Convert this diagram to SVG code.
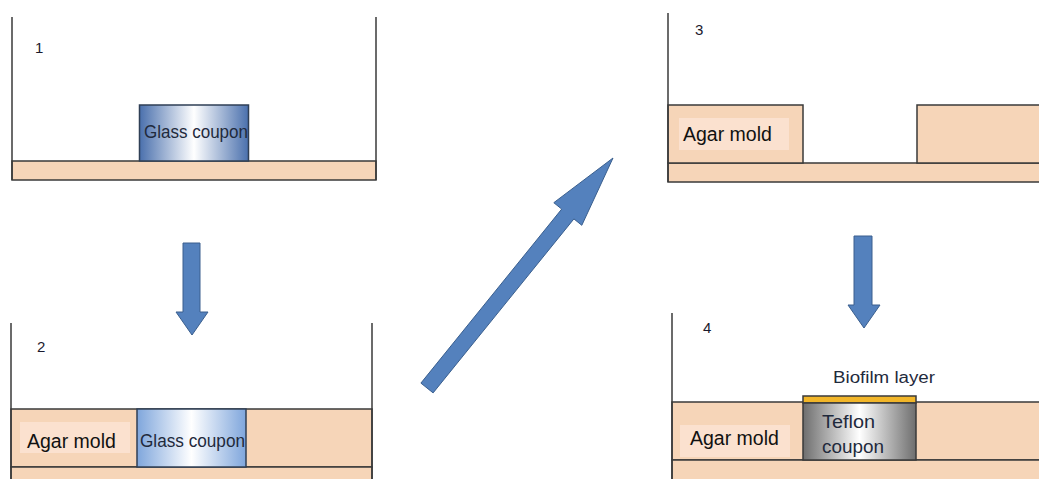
<svg xmlns="http://www.w3.org/2000/svg" width="1039" height="479" viewBox="0 0 1039 479">
<defs>
<linearGradient id="glassDark" x1="0" y1="0" x2="1" y2="0">
<stop offset="0" stop-color="#4a70ad"/><stop offset="0.5" stop-color="#ffffff"/><stop offset="1" stop-color="#4a70ad"/>
</linearGradient>
<linearGradient id="glassLight" x1="0" y1="0" x2="1" y2="0">
<stop offset="0" stop-color="#7fa6dc"/><stop offset="0.5" stop-color="#ffffff"/><stop offset="1" stop-color="#7fa6dc"/>
</linearGradient>
<linearGradient id="teflon" x1="0" y1="0" x2="1" y2="0">
<stop offset="0" stop-color="#6e6e6e"/><stop offset="0.5" stop-color="#ffffff"/><stop offset="1" stop-color="#6e6e6e"/>
</linearGradient>
</defs>
<style>
.wall{stroke:#3a3a3a;stroke-width:1.5;fill:none}
.agar{fill:#f6d5b8;stroke:#3a3a3a;stroke-width:1.5}
.lbox{fill:#fbe1cf}
.cpn{stroke:#2f3f55;stroke-width:1.5}
.arr{fill:#5481bd;stroke:#3a5f8e;stroke-width:1}
.t{font-family:"Liberation Sans",Arial,sans-serif;fill:#111}
.num{font-family:"Liberation Sans",Arial,sans-serif;font-size:15px;fill:#1a1a2e}
.ct{font-family:"Liberation Sans",Arial,sans-serif;fill:#1f2a3c}
</style>
<rect width="1039" height="479" fill="#ffffff"/>

<g id="panel1">
<rect class="agar" x="12" y="161" width="364" height="19"/>
<polyline class="wall" points="12,17 12,180"/>
<polyline class="wall" points="376,17 376,180"/>
<rect class="cpn" x="139.5" y="105" width="109" height="56" fill="url(#glassDark)"/>
<text class="ct" x="144" y="138" font-size="17.5" textLength="104" lengthAdjust="spacingAndGlyphs">Glass coupon</text>
<text class="num" x="35" y="53">1</text>
</g>

<g id="panel2">
<rect class="agar" x="11" y="409" width="361" height="58"/>
<rect class="agar" x="11" y="467" width="361" height="20"/>
<polyline class="wall" points="11,323 11,479"/>
<polyline class="wall" points="372,323 372,479"/>
<rect class="cpn" x="137" y="409" width="109" height="58" fill="url(#glassLight)"/>
<rect class="lbox" x="20" y="422" width="110" height="31"/>
<text class="t" x="27" y="448" font-size="19.5">Agar mold</text>
<text class="ct" x="140" y="447" font-size="17.5" textLength="105" lengthAdjust="spacingAndGlyphs">Glass coupon</text>
<text class="num" x="37" y="352">2</text>
</g>

<g id="panel3">
<rect class="agar" x="668" y="163" width="380" height="19"/>
<rect class="agar" x="668" y="105" width="135" height="58"/>
<rect class="agar" x="917" y="105" width="130" height="58"/>
<polyline class="wall" points="668,13 668,182"/>
<rect class="lbox" x="679" y="118" width="110" height="32"/>
<text class="t" x="683" y="141" font-size="19.5">Agar mold</text>
<text class="num" x="695" y="35">3</text>
</g>

<g id="panel4">
<rect class="agar" x="672" y="402" width="376" height="58"/>
<rect class="agar" x="672" y="460" width="376" height="25"/>
<polyline class="wall" points="672,313 672,479"/>
<rect x="803" y="396" width="113" height="7" fill="#f2b629" stroke="#3a3a3a" stroke-width="1.5"/>
<rect x="803" y="403" width="113" height="57" fill="url(#teflon)" stroke="#3a3a3a" stroke-width="1.5"/>
<rect class="lbox" x="680" y="425" width="110" height="32"/>
<text class="t" x="690" y="445" font-size="19.5">Agar mold</text>
<text class="ct" x="822" y="428" font-size="18" textLength="53" lengthAdjust="spacingAndGlyphs">Teflon</text>
<text class="ct" x="822" y="453" font-size="18" textLength="62" lengthAdjust="spacingAndGlyphs">coupon</text>
<text class="ct" x="833" y="383" font-size="16" textLength="102" lengthAdjust="spacingAndGlyphs">Biofilm layer</text>
<text class="num" x="703" y="333">4</text>
</g>

<g id="connectors">
<polygon class="arr" points="183,243 200,243 200,312 208,312 192,335 176,312 183,312"/>
<polygon class="arr" points="854,236 872,236 872,305 880,305 864,328 848,305 854,305"/>
<polygon class="arr" points="420.9,383.1 561.7,209.1 553.8,202.7 613,158 581.8,225.3 573.9,218.9 433.1,392.9"/>
</g>
</svg>
